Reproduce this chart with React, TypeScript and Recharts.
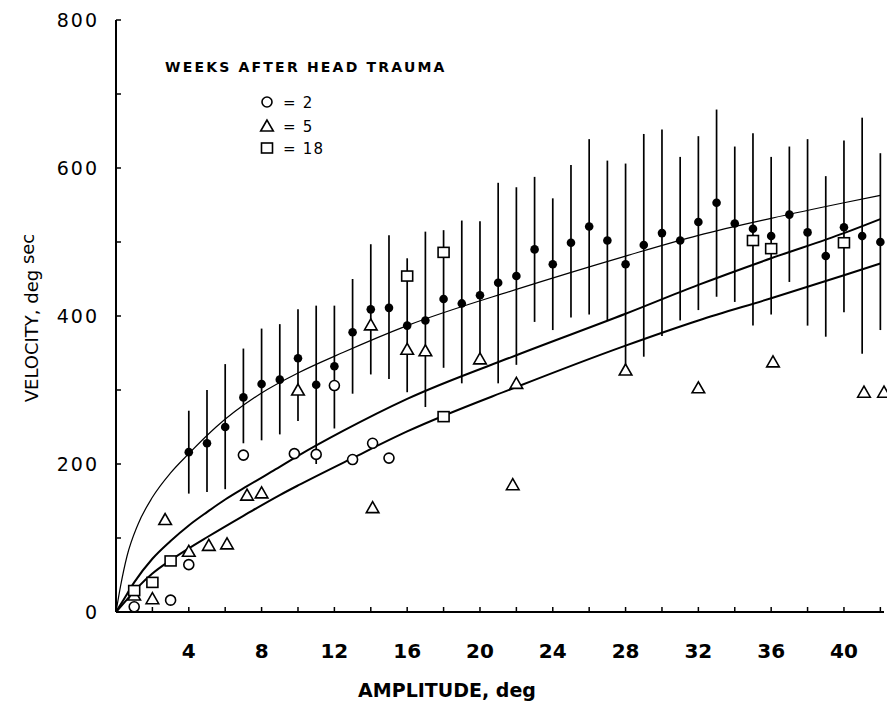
import React from 'react';
import { ComposedChart, XAxis, YAxis, Line, Scatter, ErrorBar, Customized } from 'recharts';

// Mean ± SD (filled circles with vertical bars)
const meanX = [4, 5, 6, 7, 8, 9, 10, 11, 12, 13, 14, 15, 16, 17, 18, 19, 20, 21, 22, 23, 24, 25, 26, 27, 28, 29, 30, 31, 32, 33, 34, 35, 36, 37, 38, 39, 40, 41, 42];
const meanY = [216, 228, 250, 290, 308, 314, 343, 307, 332, 378, 409, 411, 387, 394, 423, 417, 428, 445, 454, 490, 470, 499, 521, 502, 470, 496, 512, 502, 527, 553, 525, 518, 508, 537, 513, 481, 520, 508, 500];
const sdLow = [160, 162, 166, 228, 232, 240, 258, 200, 248, 295, 321, 315, 297, 277, 330, 309, 338, 309, 334, 392, 381, 398, 402, 394, 331, 345, 373, 394, 408, 426, 419, 387, 402, 446, 387, 372, 405, 349, 381];
const sdHigh = [272, 300, 335, 356, 383, 389, 409, 414, 414, 450, 497, 509, 478, 514, 516, 529, 528, 580, 574, 588, 559, 604, 639, 610, 606, 646, 652, 615, 643, 679, 629, 647, 615, 629, 639, 589, 637, 668, 620];

// 2 weeks (open circles)
const wk2X = [1, 3, 4, 7, 9.8, 11, 12, 13, 14.1, 15];
const wk2Y = [7, 16, 64, 212, 214, 213, 306, 206, 228, 208];

// 5 weeks (open triangles)
const wk5X = [1, 2, 2.7, 4, 5.1, 6.1, 7.2, 8, 10, 14, 14.1, 16, 17, 20, 22, 21.8, 28, 32, 36.1, 41.1, 42.2];
const wk5Y = [23, 18, 125, 82, 90, 92, 158, 161, 300, 388, 141, 355, 353, 342, 309, 172, 327, 303, 338, 297, 297];

// 18 weeks (open squares)
const wk18X = [1, 2, 3, 16, 18, 18, 35, 36, 40];
const wk18Y = [29, 40, 69, 454, 486, 264, 502, 491, 499];

// Fitted curves
const topCurveX = [0, 0.25, 0.6, 1.2, 2, 3, 4, 5.5, 8, 10, 12.5, 16, 22, 28, 32, 36, 40, 42];
const topCurveY = [0, 35, 75, 118, 155, 188, 214, 250, 296, 323, 351, 387, 436, 481, 509, 532, 553, 563];
const midCurveX = [0, 0.4, 1, 2, 3, 4, 5, 6, 7.2, 8.65, 10, 12.5, 16, 22, 28, 32, 36, 40, 42];
const midCurveY = [0, 16, 40, 72, 96, 117, 135, 152, 170, 191, 211, 245, 288, 347, 403, 442, 478, 512, 531];
const lowCurveX = [0, 0.5, 1.3, 2, 3, 4, 5, 7, 9, 10, 13, 16, 22, 28, 32, 36, 40, 42];
const lowCurveY = [0, 14, 36, 52, 70, 86, 101, 130, 158, 171, 208, 244, 304, 360, 394, 424, 455, 471];

// Axes
const xTicks = [0, 2, 4, 6, 8, 10, 12, 14, 16, 18, 20, 22, 24, 26, 28, 30, 32, 34, 36, 38, 40, 42];
const xTickLabels = [4, 8, 12, 16, 20, 24, 28, 32, 36, 40];
const yTicks = [0, 100, 200, 300, 400, 500, 600, 700, 800];
const yTickLabels = [0, 200, 400, 600, 800];

const legendTitle = 'WEEKS AFTER HEAD TRAUMA';
const legendItems = ['= 2', '= 5', '= 18'];

const FONT = '"DejaVu Sans", sans-serif';

const zip = (xs: number[], ys: number[]) => xs.map((x, i) => ({ x, y: ys[i] }));

const meanData = meanX.map((x, i) => ({
  x,
  y: meanY[i],
  err: [meanY[i] - sdLow[i], sdHigh[i] - meanY[i]],
}));
const wk2Data = zip(wk2X, wk2Y);
const wk5Data = zip(wk5X, wk5Y);
const wk18Data = zip(wk18X, wk18Y);
const topData = zip(topCurveX, topCurveY);
const midData = zip(midCurveX, midCurveY);
const lowData = zip(lowCurveX, lowCurveY);

const SW = 1.6;

const FilledDot = (p: any) => <circle cx={p.cx} cy={p.cy} r={4.3} fill="#000" />;
const OpenCircle = (p: any) => (
  <circle cx={p.cx} cy={p.cy} r={5} fill="#fff" stroke="#000" strokeWidth={SW} />
);
const OpenTriangle = (p: any) => (
  <polygon
    points={`${p.cx},${p.cy - 6} ${p.cx - 6.3},${p.cy + 5} ${p.cx + 6.3},${p.cy + 5}`}
    fill="#fff"
    stroke="#000"
    strokeWidth={SW}
    strokeLinejoin="miter"
  />
);
const OpenSquare = (p: any) => (
  <rect x={p.cx - 5.5} y={p.cy - 5} width={11} height={10} fill="#fff" stroke="#000" strokeWidth={SW} />
);

const XTick = (props: any) => {
  const { x, y, payload } = props;
  const v = payload.value;
  return (
    <g>
      <line x1={x} y1={y} x2={x} y2={y - 5} stroke="#000" strokeWidth={1.5} />
      {xTickLabels.includes(v) && (
        <text x={x} y={y + 46} textAnchor="middle" fontFamily={FONT} fontWeight="bold" fontSize={20} fill="#000">
          {v}
        </text>
      )}
    </g>
  );
};

const YTick = (props: any) => {
  const { x, y, payload } = props;
  const v = payload.value;
  return (
    <g>
      <line x1={x} y1={y} x2={x + 5} y2={y} stroke="#000" strokeWidth={1.5} />
      {yTickLabels.includes(v) && (
        <text x={x - 17} y={y} dy="0.36em" textAnchor="end" fontFamily={FONT} fontSize={19} letterSpacing={2} fill="#000">
          {v}
        </text>
      )}
    </g>
  );
};

const Annotations = () => {
  const rowsY = [102, 126, 148];
  const shapes = [OpenCircle, OpenTriangle, OpenSquare];
  return (
    <g>
      <text x={165} y={72} fontFamily={FONT} fontWeight="bold" fontSize={14} letterSpacing={2.2} fill="#000">
        {legendTitle}
      </text>
      {legendItems.map((t, i) => {
        const S = shapes[i];
        return (
          <g key={t}>
            <S cx={267} cy={rowsY[i]} />
            <text x={283} y={rowsY[i] + 5.5} fontFamily={FONT} fontSize={15} letterSpacing={1.2} fill="#000">
              {t}
            </text>
          </g>
        );
      })}
      <text
        transform="translate(38,318) rotate(-90)"
        textAnchor="middle"
        fontFamily={FONT}
        fontSize={18}
        fill="#000"
      >
        VELOCITY,  deg <tspan dy={-4}>sec</tspan>
      </text>
      <text x={447} y={697} textAnchor="middle" fontFamily={FONT} fontWeight="bold" fontSize={19} fill="#000">
        AMPLITUDE, deg
      </text>
    </g>
  );
};

export default function App() {
  return (
    <div style={{ position: 'absolute', left: 0, top: 0, width: 887, height: 704, background: '#fff' }}>
      <ComposedChart width={887} height={704} margin={{ top: 20, right: 3, left: 0, bottom: 0 }}>
        <XAxis
          type="number"
          dataKey="x"
          domain={[0, 42.2]}
          ticks={xTicks}
          interval={0}
          tickSize={0}
          tickMargin={0}
          tickLine={false}
          tick={<XTick />}
          height={92}
          axisLine={{ stroke: '#000', strokeWidth: 2 }}
        />
        <YAxis
          type="number"
          domain={[0, 800]}
          ticks={yTicks}
          interval={0}
          tickSize={0}
          tickMargin={0}
          tickLine={false}
          tick={<YTick />}
          width={116}
          axisLine={{ stroke: '#000', strokeWidth: 2 }}
        />
        <Line data={topData} dataKey="y" type="monotone" stroke="#000" strokeWidth={1.2} dot={false} isAnimationActive={false} />
        <Line data={midData} dataKey="y" type="monotone" stroke="#000" strokeWidth={2} dot={false} isAnimationActive={false} />
        <Line data={lowData} dataKey="y" type="monotone" stroke="#000" strokeWidth={2} dot={false} isAnimationActive={false} />
        <Scatter data={meanData} dataKey="y" shape={FilledDot} isAnimationActive={false}>
          <ErrorBar dataKey="err" direction="y" width={0} stroke="#000" strokeWidth={1.7} isAnimationActive={false} />
        </Scatter>
        <Scatter data={wk2Data} dataKey="y" shape={OpenCircle} isAnimationActive={false} />
        <Scatter data={wk5Data} dataKey="y" shape={OpenTriangle} isAnimationActive={false} />
        <Scatter data={wk18Data} dataKey="y" shape={OpenSquare} isAnimationActive={false} />
        <Customized component={Annotations} />
      </ComposedChart>
    </div>
  );
}
